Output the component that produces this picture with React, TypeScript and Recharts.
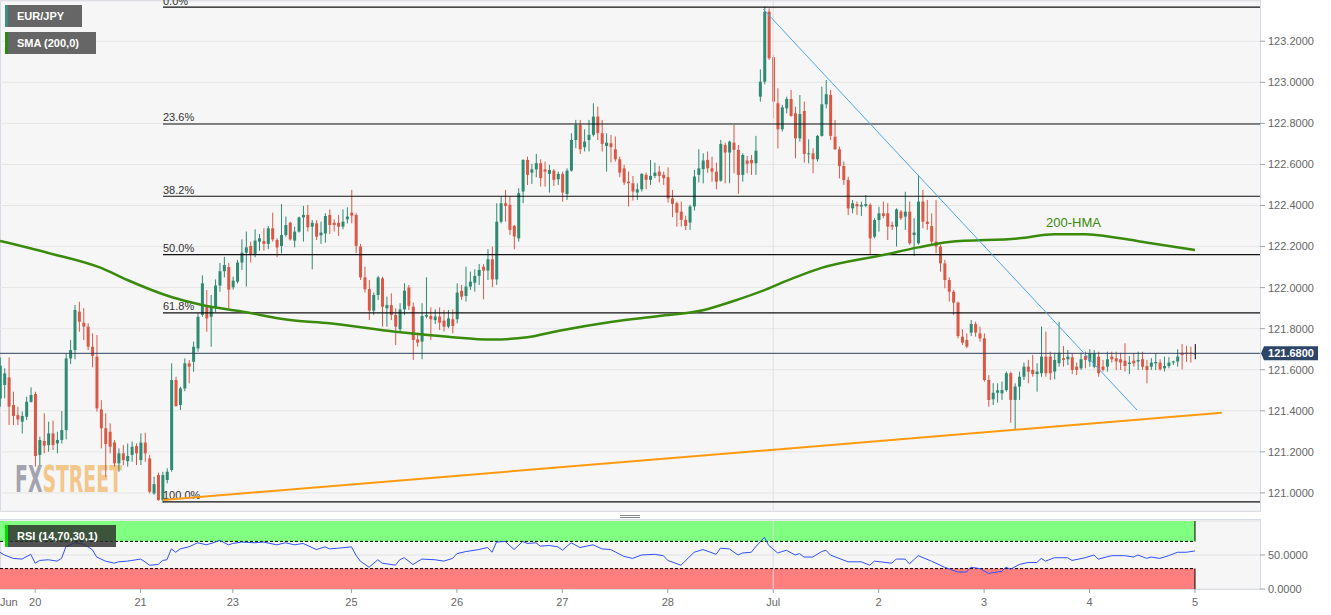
import React from 'react';
import {
  ComposedChart,
  Bar,
  Line,
  XAxis,
  YAxis,
  CartesianGrid,
  ReferenceLine,
  ReferenceArea,
} from 'recharts';

type C = [number, number, number, number]; // open, high, low, close (hourly EUR/JPY)

const jun19: C[] = [
  [121.46, 121.66, 121.42, 121.62], [121.526, 121.607, 121.461, 121.582], [121.563, 121.66, 121.331, 121.42],
  [121.428, 121.493, 121.331, 121.375], [121.379, 121.42, 121.331, 121.358], [121.347, 121.396, 121.29, 121.375],
  [121.371, 121.469, 121.355, 121.444], [121.444, 121.514, 121.44, 121.477],
];
const jun20: C[] = [
  [121.482, 121.493, 121.128, 121.18], [121.185, 121.274, 121.136, 121.258], [121.253, 121.388, 121.193, 121.23],
  [121.233, 121.347, 121.201, 121.29], [121.29, 121.352, 121.209, 121.233], [121.241, 121.298, 121.193, 121.258],
  [121.258, 121.399, 121.241, 121.306], [121.306, 121.677, 121.261, 121.655], [121.655, 121.745, 121.628, 121.696],
  [121.696, 121.915, 121.651, 121.891], [121.883, 121.931, 121.785, 121.834], [121.829, 121.9, 121.745, 121.81],
  [121.81, 121.826, 121.696, 121.712], [121.712, 121.777, 121.612, 121.667], [121.664, 121.769, 121.396, 121.412],
  [121.407, 121.452, 121.217, 121.315], [121.315, 121.388, 121.079, 121.238], [121.298, 121.339, 121.193, 121.225],
  [121.246, 121.258, 121.128, 121.144], [121.144, 121.217, 121.103, 121.193], [121.193, 121.233, 121.136, 121.16],
  [121.155, 121.241, 121.128, 121.18], [121.185, 121.25, 121.152, 121.225], [121.228, 121.241, 121.136, 121.193],
];
const jun21: C[] = [
  [121.16, 121.29, 121.136, 121.245], [121.245, 121.293, 121.152, 121.193], [121.168, 121.185, 120.998, 121.006],
  [120.998, 121.079, 120.99, 121.043], [121.087, 121.099, 120.962, 120.965], [120.965, 121.103, 120.952, 121.087],
  [121.063, 121.12, 121.047, 121.103], [121.112, 121.631, 121.103, 121.55], [121.55, 121.566, 121.42, 121.423],
  [121.428, 121.517, 121.404, 121.509], [121.509, 121.655, 121.495, 121.631], [121.631, 121.647, 121.534, 121.615],
  [121.639, 121.737, 121.59, 121.712], [121.704, 121.875, 121.688, 121.858], [121.867, 122.06, 121.858, 122.021],
  [121.915, 121.988, 121.785, 121.85], [121.858, 121.964, 121.712, 121.907], [121.9, 122.04, 121.88, 122.01],
  [122.01, 122.12, 121.98, 122.08], [122.08, 122.15, 122.05, 122.11], [122.1, 122.12, 121.9, 121.99],
];
const jun23: C[] = [
  [122.002, 122.053, 121.99, 122.034], [122.029, 122.135, 122.02, 122.122], [122.122, 122.235, 122.086, 122.17],
];
const jun24: C[] = [
  [122.17, 122.273, 122.005, 122.196], [122.203, 122.224, 122.122, 122.159], [122.164, 122.284, 122.148, 122.229],
  [122.224, 122.261, 122.18, 122.24], [122.227, 122.289, 122.18, 122.213], [122.213, 122.3, 122.187, 122.289],
  [122.289, 122.365, 122.224, 122.235], [122.232, 122.24, 122.148, 122.196], [122.203, 122.407, 122.167, 122.256],
  [122.256, 122.346, 122.248, 122.305], [122.316, 122.321, 122.229, 122.235], [122.229, 122.297, 122.196, 122.273],
  [122.273, 122.346, 122.268, 122.342], [122.342, 122.398, 122.224, 122.354], [122.354, 122.403, 122.273, 122.294],
  [122.297, 122.329, 122.089, 122.316], [122.313, 122.329, 122.232, 122.248], [122.255, 122.321, 122.213, 122.268],
  [122.264, 122.362, 122.219, 122.349], [122.354, 122.381, 122.261, 122.305], [122.316, 122.333, 122.273, 122.305],
  [122.316, 122.354, 122.252, 122.297], [122.297, 122.381, 122.284, 122.321], [122.333, 122.391, 122.313, 122.346],
];
const jun25: C[] = [
  [122.365, 122.476, 122.313, 122.351], [122.354, 122.362, 122.167, 122.203], [122.2, 122.213, 122.037, 122.05],
  [122.05, 122.102, 121.976, 121.992], [121.993, 122.037, 121.842, 121.888], [121.888, 121.976, 121.867, 121.964],
  [121.964, 122.057, 121.94, 122.049], [122.045, 122.053, 121.81, 121.907], [121.899, 121.956, 121.81, 121.915],
  [121.915, 121.972, 121.842, 121.867], [121.867, 121.899, 121.721, 121.81], [121.797, 121.924, 121.786, 121.894],
  [121.894, 122.021, 121.867, 121.985], [122.001, 122.013, 121.891, 121.911], [121.907, 121.927, 121.648, 121.745],
  [121.748, 121.781, 121.712, 121.732], [121.737, 121.924, 121.651, 121.862], [121.859, 122.05, 121.85, 121.867],
  [121.862, 121.904, 121.745, 121.846], [121.842, 121.894, 121.823, 121.859], [121.859, 121.904, 121.794, 121.829],
  [121.839, 121.891, 121.786, 121.81], [121.81, 121.891, 121.802, 121.85], [121.846, 121.894, 121.777, 121.813],
];
const jun26: C[] = [
  [121.846, 122.021, 121.826, 121.976], [121.985, 122.013, 121.94, 121.956], [121.959, 122.102, 121.932, 122.005],
  [122.005, 122.078, 121.989, 122.029], [122.024, 122.089, 121.98, 122.057], [122.057, 122.115, 122.013, 122.086],
  [122.102, 122.115, 121.943, 122.083], [122.083, 122.187, 122.037, 122.138], [122.138, 122.2, 122.002, 122.04],
  [122.04, 122.411, 122.013, 122.321], [122.321, 122.443, 122.313, 122.411], [122.411, 122.476, 122.322, 122.398],
  [122.403, 122.443, 122.257, 122.281], [122.301, 122.305, 122.187, 122.249], [122.24, 122.484, 122.224, 122.46],
  [122.468, 122.625, 122.411, 122.622], [122.622, 122.638, 122.5, 122.549], [122.56, 122.603, 122.505, 122.576],
  [122.576, 122.651, 122.538, 122.606], [122.606, 122.625, 122.492, 122.533], [122.576, 122.614, 122.492, 122.565],
  [122.554, 122.598, 122.463, 122.573], [122.57, 122.577, 122.495, 122.525], [122.528, 122.565, 122.5, 122.554],
];
const jun27: C[] = [
  [122.554, 122.565, 122.419, 122.463], [122.456, 122.581, 122.427, 122.57], [122.57, 122.752, 122.565, 122.719],
  [122.719, 122.817, 122.679, 122.792], [122.792, 122.817, 122.651, 122.674], [122.684, 122.771, 122.663, 122.711],
  [122.719, 122.817, 122.663, 122.744], [122.744, 122.898, 122.736, 122.833], [122.833, 122.882, 122.719, 122.752],
  [122.752, 122.817, 122.663, 122.7], [122.69, 122.752, 122.565, 122.706], [122.703, 122.744, 122.609, 122.684],
  [122.674, 122.736, 122.614, 122.625], [122.625, 122.638, 122.538, 122.56], [122.581, 122.598, 122.5, 122.512],
  [122.516, 122.565, 122.395, 122.508], [122.508, 122.544, 122.424, 122.468], [122.463, 122.508, 122.427, 122.479],
  [122.479, 122.557, 122.468, 122.554], [122.549, 122.56, 122.479, 122.525], [122.525, 122.622, 122.5, 122.544],
  [122.544, 122.609, 122.533, 122.56], [122.565, 122.593, 122.512, 122.544], [122.549, 122.565, 122.5, 122.533],
];
const jun28: C[] = [
  [122.538, 122.586, 122.414, 122.435], [122.435, 122.476, 122.343, 122.408], [122.411, 122.419, 122.297, 122.365],
  [122.37, 122.419, 122.297, 122.33], [122.33, 122.35, 122.28, 122.3], [122.317, 122.403, 122.281, 122.395],
  [122.395, 122.573, 122.375, 122.541], [122.549, 122.674, 122.512, 122.581], [122.577, 122.654, 122.508, 122.619],
  [122.622, 122.663, 122.56, 122.581], [122.581, 122.638, 122.516, 122.565], [122.565, 122.609, 122.479, 122.516],
  [122.521, 122.719, 122.516, 122.7], [122.695, 122.706, 122.508, 122.658], [122.658, 122.716, 122.508, 122.711],
  [122.706, 122.792, 122.557, 122.671], [122.671, 122.695, 122.456, 122.549], [122.549, 122.654, 122.516, 122.646],
  [122.619, 122.641, 122.557, 122.603], [122.622, 122.646, 122.549, 122.606], [122.606, 122.739, 122.549, 122.667],
];
const jun30: C[] = [
  [122.93, 123.063, 122.906, 123.003], [123.003, 123.369, 122.99, 123.344], [123.344, 123.36, 123.109, 123.117],
];
const jul01: C[] = [
  [123.122, 123.133, 122.825, 122.906], [122.898, 122.971, 122.678, 122.771], [122.771, 122.89, 122.76, 122.878],
  [122.873, 122.93, 122.849, 122.919], [122.919, 122.963, 122.833, 122.836], [122.849, 122.881, 122.63, 122.727],
  [122.727, 122.938, 122.711, 122.846], [122.86, 122.906, 122.609, 122.651], [122.651, 122.722, 122.605, 122.654],
  [122.654, 122.679, 122.557, 122.625], [122.625, 122.743, 122.614, 122.739], [122.739, 122.979, 122.735, 122.893],
  [122.893, 123.011, 122.873, 122.942], [122.938, 122.963, 122.719, 122.739], [122.735, 122.816, 122.67, 122.674],
  [122.674, 122.687, 122.532, 122.592], [122.592, 122.614, 122.5, 122.524], [122.524, 122.54, 122.354, 122.386],
  [122.386, 122.427, 122.362, 122.411], [122.407, 122.419, 122.354, 122.395], [122.395, 122.419, 122.349, 122.403],
  [122.398, 122.451, 122.391, 122.407], [122.403, 122.411, 122.159, 122.24], [122.248, 122.338, 122.24, 122.329],
];
const jul02: C[] = [
  [122.329, 122.394, 122.273, 122.362], [122.362, 122.419, 122.338, 122.349], [122.362, 122.411, 122.232, 122.297],
  [122.305, 122.321, 122.281, 122.297], [122.297, 122.386, 122.2, 122.381], [122.37, 122.378, 122.329, 122.338],
  [122.346, 122.467, 122.281, 122.37], [122.37, 122.419, 122.208, 122.216], [122.256, 122.338, 122.154, 122.268],
  [122.216, 122.549, 122.21, 122.419], [122.419, 122.476, 122.289, 122.321], [122.321, 122.427, 122.281, 122.31],
  [122.3, 122.362, 122.203, 122.224], [122.224, 122.427, 122.167, 122.2], [122.2, 122.208, 122.078, 122.118],
  [122.118, 122.135, 121.997, 122.037], [122.037, 122.05, 121.932, 121.98], [121.98, 121.989, 121.867, 121.927],
  [121.927, 121.932, 121.753, 121.764], [121.761, 121.797, 121.721, 121.732], [121.745, 121.777, 121.705, 121.713],
  [121.781, 121.842, 121.764, 121.823], [121.823, 121.834, 121.761, 121.781], [121.777, 121.81, 121.737, 121.753],
];
const jul03: C[] = [
  [121.753, 121.777, 121.542, 121.55], [121.55, 121.574, 121.42, 121.453], [121.456, 121.534, 121.428, 121.488],
  [121.488, 121.534, 121.44, 121.5], [121.485, 121.542, 121.453, 121.501], [121.501, 121.591, 121.493, 121.583],
  [121.583, 121.591, 121.342, 121.453], [121.453, 121.534, 121.31, 121.518], [121.518, 121.591, 121.453, 121.566],
  [121.566, 121.635, 121.55, 121.615], [121.615, 121.648, 121.534, 121.591], [121.599, 121.672, 121.566, 121.579],
  [121.579, 121.631, 121.493, 121.591], [121.583, 121.81, 121.566, 121.664], [121.664, 121.786, 121.566, 121.583],
  [121.664, 121.688, 121.55, 121.583], [121.591, 121.683, 121.553, 121.648], [121.632, 121.834, 121.615, 121.683],
  [121.656, 121.716, 121.615, 121.648], [121.651, 121.696, 121.623, 121.664], [121.661, 121.68, 121.579, 121.599],
  [121.615, 121.635, 121.574, 121.599], [121.607, 121.683, 121.599, 121.651], [121.667, 121.688, 121.607, 121.648],
];
const jul04: C[] = [
  [121.64, 121.7, 121.615, 121.68], [121.615, 121.696, 121.607, 121.68], [121.664, 121.688, 121.566, 121.583],
  [121.615, 121.648, 121.591, 121.599], [121.615, 121.688, 121.591, 121.651], [121.664, 121.688, 121.635, 121.651],
  [121.656, 121.688, 121.599, 121.64], [121.651, 121.683, 121.599, 121.635], [121.644, 121.729, 121.591, 121.618],
  [121.628, 121.667, 121.579, 121.635], [121.644, 121.68, 121.615, 121.631], [121.64, 121.688, 121.599, 121.648],
  [121.651, 121.688, 121.599, 121.615], [121.618, 121.648, 121.534, 121.599], [121.615, 121.656, 121.599, 121.635],
  [121.631, 121.68, 121.599, 121.638], [121.635, 121.651, 121.596, 121.602], [121.607, 121.664, 121.591, 121.618],
  [121.618, 121.661, 121.607, 121.635], [121.635, 121.644, 121.623, 121.64], [121.64, 121.7, 121.615, 121.664],
  [121.683, 121.725, 121.602, 121.672], [121.683, 121.716, 121.639, 121.677], [121.683, 121.712, 121.635, 121.677],
];
const jul05: C[] = [[121.677, 121.725, 121.651, 121.68]];

const sessions: C[][] = [jun19, jun20, jun21, jun23, jun24, jun25, jun26, jun27, jun28, jun30, jul01, jul02, jul03, jul04, jul05];

// 200-HMA, read at selected candle indexes
const hmaIndex = [0, 11, 23, 29, 39, 46, 55, 66, 75, 90, 102, 112, 120, 127, 139, 150, 160, 167, 174, 178, 187, 201, 209, 216, 232, 240, 247, 255, 262, 272];
const hmaValue = [122.227, 122.169, 122.096, 122.037, 121.954, 121.915, 121.884, 121.842, 121.826, 121.785, 121.761, 121.747, 121.758, 121.789, 121.833, 121.862, 121.89, 121.935, 121.988, 122.024, 122.096, 122.159, 122.196, 122.222, 122.24, 122.26, 122.26, 122.24, 122.216, 122.183];

// RSI (14) read at selected candle indexes
const rsiIndex = [0, 1, 3, 5, 7, 8, 9, 11, 13, 14, 15, 17, 19, 20, 21, 22, 24, 26, 27, 29, 30, 32, 33, 34, 36, 37, 38, 39, 40, 41, 43, 44, 45, 47, 49, 50, 52, 53, 55, 58, 60, 63, 65, 67, 69, 72, 74, 75, 77, 80, 81, 82, 84, 86, 87, 90, 91, 92, 94, 96, 99, 101, 103, 104, 106, 109, 111, 112, 113, 115, 117, 119, 120, 122, 123, 125, 127, 128, 130, 132, 135, 137, 139, 142, 144, 146, 149, 151, 152, 155, 158, 160, 163, 164, 166, 168, 169, 171, 172, 174, 175, 177, 179, 181, 182, 183, 185, 187, 188, 189, 193, 196, 198, 199, 203, 204, 206, 207, 209, 212, 215, 218, 220, 221, 223, 225, 228, 229, 230, 232, 234, 236, 237, 238, 240, 243, 244, 247, 249, 250, 253, 256, 258, 259, 261, 262, 264, 266, 268, 270, 272];
const rsiValue = [54, 50, 45, 44, 51, 38, 42, 43, 41, 45, 62, 68, 66, 62, 58, 47, 41, 38, 40, 41, 42, 44, 40, 35, 36, 42, 43, 59, 54, 59, 62, 65, 68, 65, 69, 71.5, 65, 67, 69, 68, 69, 65, 68, 65, 67, 58, 62, 59, 60, 62, 50, 41, 32, 43, 38, 35, 43, 46, 36, 44, 43, 41, 45, 52, 55, 58, 61, 54, 69, 70, 58, 70, 67, 68, 63, 64, 62, 57, 68, 61, 65, 59, 58, 48, 45, 50, 51, 49, 42, 35, 54, 58, 51, 60, 59, 50, 53, 54, 62, 76, 64, 53, 57, 50, 52, 47, 47, 55, 57, 50, 40, 40, 35, 41, 38, 44, 44, 37, 49, 41, 32, 25, 25, 32, 30, 23, 26, 32, 29, 36, 39, 39, 45, 41, 46, 46, 42, 46, 50, 44, 49, 49, 47, 50, 45, 47, 45, 49, 54, 54, 56];

// Fibonacci retracement of the 120.956 -> 123.366 swing
const fibLevels = [123.366, 122.797, 122.445, 122.161, 121.877, 120.956];
const fibLabels = ['0.0%', '23.6%', '38.2%', '50.0%', '61.8%', '100.0%'];
const fibStartIndex = 37.1;

// trend lines [candle index, price]
const resistanceLine = [[173.7, 123.357], [258.8, 121.404]];
const supportLine = [[37.1, 120.966], [278.1, 121.39]];

const lastPrice = 121.68;
const priceTicks = [121.0, 121.2, 121.4, 121.6, 121.8, 122.0, 122.2, 122.4, 122.6, 122.8, 123.0, 123.2];
const rsiTicks = [0, 50];
const xTickIndex = [2, 8, 32, 53, 80, 104, 128, 152, 176, 200, 224, 248, 272];
const xTickLabel = ['Jun', '20', '21', '23', '25', '26', '27', '28', 'Jul', '2', '3', '4', '5'];
const monthStartIndex = 176;

const X_MAX = 286.8;
const Y_MIN = 120.912;
const Y_MAX = 123.396;
const GREEN = '#2f8a72';
const RED = '#da5846';
const FONT = '"Liberation Sans", Arial, sans-serif';

const candles: C[] = sessions.flat();
const LAST = candles.length - 1;
const rows = candles.map((c, i) => ({
  i,
  o: c[0],
  h: c[1],
  l: c[2],
  c: c[3],
  range: [c[2], c[1]] as [number, number],
  hma: undefined as number | undefined,
  rsi: undefined as number | undefined,
}));
hmaIndex.forEach((ix, k) => { rows[ix].hma = hmaValue[k]; });
rsiIndex.forEach((ix, k) => { rows[ix].rsi = rsiValue[k]; });

const Candle = (props: any) => {
  let { x, y, width, height } = props;
  const p = props.payload;
  if (!p || x == null) return null;
  if (height < 0) { y += height; height = -height; }
  const cx = x + width / 2;
  const span = p.h - p.l;
  const k = span > 0 ? height / span : 0;
  const yo = y + (p.h - p.o) * k;
  const yc = y + (p.h - p.c) * k;
  const color = p.i === LAST ? '#000' : p.c >= p.o ? GREEN : RED;
  const top = Math.min(yo, yc);
  const bh = Math.max(1, Math.abs(yo - yc));
  return (
    <g>
      <line x1={cx} x2={cx} y1={y} y2={y + Math.max(height, 1)} stroke={color} strokeWidth={1} />
      <rect x={cx - 1.5} y={top} width={p.i === LAST ? 1 : 3} height={bh} fill={color} />
    </g>
  );
};

const XTick = (p: any) => {
  const { x, y, payload } = p;
  const k = xTickIndex.indexOf(payload.value);
  const label = k >= 0 ? xTickLabel[k] : '';
  return (
    <g>
      {label !== 'Jun' && <line x1={x} x2={x} y1={y - 9} y2={y - 5} stroke="#9aa0ad" />}
      <text x={x} y={y} dy="0.71em" textAnchor="middle" fill="#666" fontSize={11}>{label}</text>
    </g>
  );
};

const LegendBox = ({ left, top, width, text, stripe, bg }: any) => (
  <div
    style={{
      position: 'absolute', left, top, width, height: 22, background: bg,
      borderLeft: `3px solid ${stripe}`, boxSizing: 'border-box', color: '#fff',
      fontSize: 11, fontWeight: 'bold', lineHeight: '22px', paddingLeft: 9, whiteSpace: 'nowrap',
    }}
  >
    {text}
  </div>
);

const PriceLine = (p: any) => {
  const xl = Math.min(p.x1, p.x2);
  const xr = Math.max(p.x1, p.x2);
  const y = p.y1;
  return (
    <g>
      <line x1={xl} y1={y} x2={xr} y2={y} stroke="#2d405e" strokeWidth={1} />
      <path d={`M${xr + 1},${y} L${xr + 4},${y - 7} L${xr + 58},${y - 7} L${xr + 58},${y + 7} L${xr + 4},${y + 7} Z`} fill="#2d4566" />
      <text x={xr + 31} y={y + 4} textAnchor="middle" fontSize={11} fontWeight="bold" fill="#fff">{lastPrice.toFixed(4)}</text>
    </g>
  );
};

export default function App() {
  return (
    <div style={{ position: 'fixed', left: 0, top: 0, width: 1331, height: 615, background: '#fff', fontFamily: FONT, overflow: 'hidden' }}>
      {/* main panel background */}
      <div style={{ position: 'absolute', left: 0, top: 0, width: 1261, height: 512, background: '#f6f6f6', border: '1px solid #d5dae4', boxSizing: 'border-box' }} />
      {/* watermark */}
      <svg style={{ position: 'absolute', left: 0, top: 0 }} width={200} height={511}>
        <text x={15} y={492} fontSize={37} fontWeight="bold" fontFamily='"DejaVu Sans Condensed", "DejaVu Sans", sans-serif' textLength={107} lengthAdjust="spacingAndGlyphs">
          <tspan fill="#a3a3b0">FX</tspan>
          <tspan fill="#f3c68c">STREET</tspan>
        </text>
      </svg>
      {/* RSI panel background */}
      <div style={{ position: 'absolute', left: 0, top: 519, width: 1261, height: 71, background: '#f6f6f6', border: '1px solid #d5dae4', boxSizing: 'border-box' }} />
      {/* panel splitter handle */}
      <div style={{ position: 'absolute', left: 620, top: 515, width: 20, height: 1, background: '#888' }} />
      <div style={{ position: 'absolute', left: 620, top: 517, width: 20, height: 1, background: '#888' }} />

      <div style={{ position: 'absolute', left: 0, top: 0 }}>
        <ComposedChart width={1331} height={512} data={rows} margin={{ top: 1, right: 0, bottom: 1, left: 0 }}>
          <CartesianGrid vertical={false} stroke="#e6e6e6" />
          <XAxis dataKey="i" type="number" domain={[0, X_MAX]} hide allowDataOverflow />
          <YAxis
            orientation="right"
            width={71}
            domain={[Y_MIN, Y_MAX]}
            allowDataOverflow
            ticks={priceTicks}
            tickFormatter={(v: number) => v.toFixed(4)}
            tick={{ fill: '#666', fontSize: 11 }}
            tickLine={{ stroke: '#9aa0ad' }}
            tickSize={5}
            tickMargin={3}
            axisLine={false}
          />
          <ReferenceLine x={monthStartIndex} stroke="#e0e0e0" />
          {fibLevels.map((lvl, k) => (
            <ReferenceLine
              key={'fib' + k}
              segment={[{ x: fibStartIndex, y: lvl }, { x: X_MAX, y: lvl }]}
              shape={(p: any) => (
                <g>
                  <line x1={p.x1} y1={p.y1} x2={p.x2} y2={p.y2} stroke="#111" strokeWidth={1.2} />
                  <text x={Math.min(p.x1, p.x2)} y={p.y1 - 2.5} fontSize={11} fill="#333">{fibLabels[k]}</text>
                </g>
              )}
            />
          ))}
          <ReferenceLine y={lastPrice} shape={(p: any) => <PriceLine {...p} />} />
          <Bar dataKey="range" barSize={3} shape={(p: any) => <Candle {...p} />} isAnimationActive={false} />
          <Line dataKey="hma" type="monotone" connectNulls stroke="#3a8a0c" strokeWidth={2.5} dot={false} activeDot={false} isAnimationActive={false} />
          <ReferenceLine
            segment={[{ x: resistanceLine[0][0], y: resistanceLine[0][1] }, { x: resistanceLine[1][0], y: resistanceLine[1][1] }]}
            stroke="#4ba6f5"
            strokeWidth={1}
          />
          <ReferenceLine
            segment={[{ x: supportLine[0][0], y: supportLine[0][1] }, { x: supportLine[1][0], y: supportLine[1][1] }]}
            stroke="#ff9a10"
            strokeWidth={2}
          />
        </ComposedChart>
      </div>

      <div style={{ position: 'absolute', left: 0, top: 519 }}>
        <ComposedChart width={1331} height={96} data={rows} margin={{ top: 2, right: 0, bottom: 0, left: 0 }}>
          <CartesianGrid vertical={false} stroke="#e2e2e2" />
          <XAxis
            dataKey="i"
            type="number"
            domain={[0, X_MAX]}
            allowDataOverflow
            ticks={xTickIndex}
            interval={0}
            height={26}
            tickSize={4}
            tickMargin={5}
            tickLine={false}
            axisLine={false}
            tick={(p: any) => <XTick {...p} />}
          />
          <YAxis
            orientation="right"
            width={71}
            domain={[0, 100]}
            ticks={rsiTicks}
            tickFormatter={(v: number) => v.toFixed(4)}
            tick={{ fill: '#666', fontSize: 11 }}
            tickLine={{ stroke: '#9aa0ad' }}
            tickSize={5}
            tickMargin={3}
            axisLine={false}
          />
          <ReferenceArea x1={0} x2={LAST} y1={70} y2={100} fill="#80ff80" fillOpacity={1} stroke="none" />
          <ReferenceArea x1={0} x2={LAST} y1={0} y2={30} fill="#ff7f7f" fillOpacity={1} stroke="none" />
          <ReferenceLine x={monthStartIndex} stroke="#dcdcdc" />
          <ReferenceLine segment={[{ x: 0, y: 70 }, { x: LAST, y: 70 }]} stroke="#000" strokeDasharray="3 2" />
          <ReferenceLine segment={[{ x: 0, y: 30 }, { x: LAST, y: 30 }]} stroke="#000" strokeDasharray="3 2" />
          <ReferenceLine segment={[{ x: LAST, y: 70 }, { x: LAST, y: 100 }]} stroke="#000" />
          <ReferenceLine segment={[{ x: LAST, y: 0 }, { x: LAST, y: 30 }]} stroke="#000" />
          <Line dataKey="rsi" type="linear" connectNulls stroke="#3050ff" strokeWidth={1} dot={false} activeDot={false} isAnimationActive={false} />
        </ComposedChart>
      </div>

      <LegendBox left={5} top={5} width={77} text="EUR/JPY" stripe="#3b8f7e" bg="#666" />
      <LegendBox left={5} top={32} width={91} text="SMA (200,0)" stripe="#2a8a10" bg="#666" />
      <LegendBox left={5} top={525} width={111} text="RSI (14,70,30,1)" stripe="#00e000" bg="rgba(45,45,45,0.82)" />
      <div style={{ position: 'absolute', left: 1046, top: 215, fontSize: 13, lineHeight: '15px', color: '#3a8a0c' }}>200-HMA</div>
    </div>
  );
}
